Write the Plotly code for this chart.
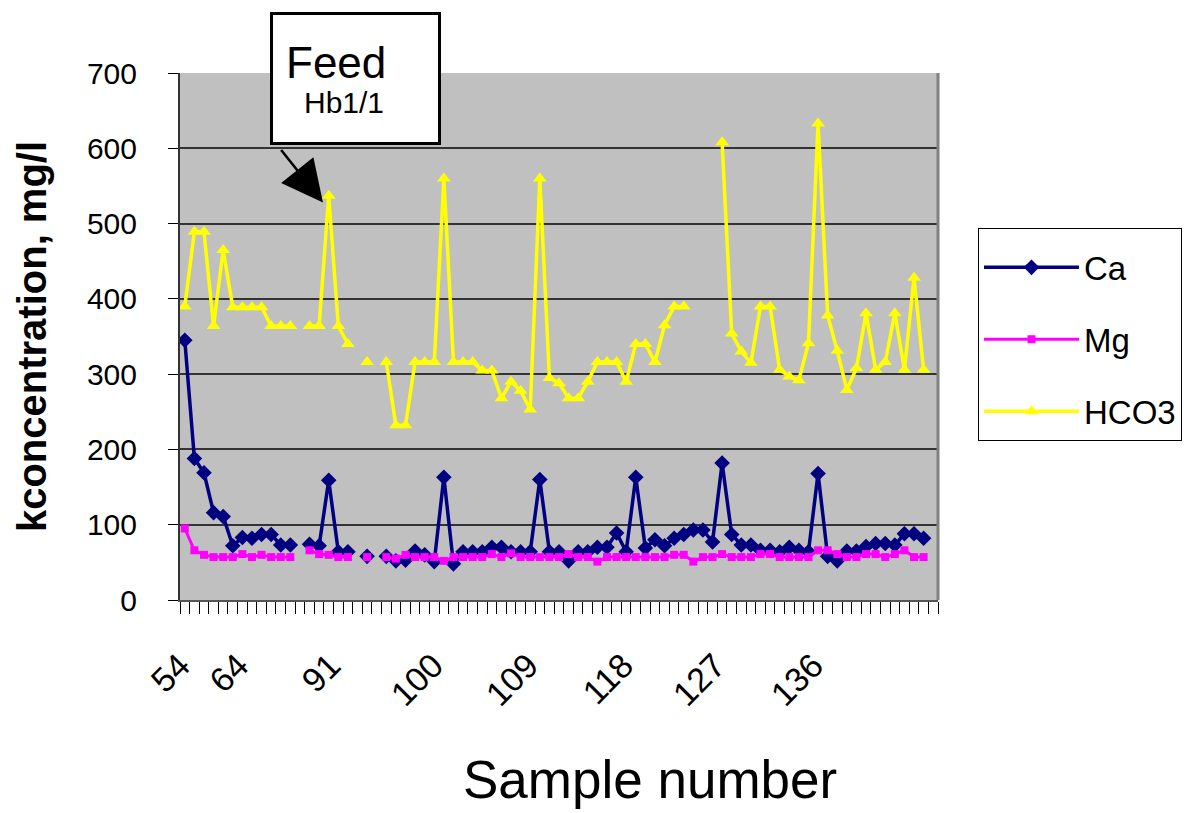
import plotly.graph_objects as go

# ---- data ----
categories = list(range(79))          # category index along the x axis
tick_pos = [-0.5, 5.6, 15.2, 25.9, 35.8, 45.7, 55.3, 65.5]
tick_text = ["54", "64", "91", "100", "109", "118", "127", "136"]

ca = [345, 188, 169, 116, 111, 72, 83, 82, 87, 87, 73, 73, None, 74, 72, 159, 64, 64, None, 58,
      None, 58, 52, 53, 65, 60, 51, 163, 48, 64, 64, 64, 70, 70, 64, 64, 64, 160, 64, 64,
      52, 64, 64, 70, 70, 89, 64, 163, 69, 80, 72, 82, 87, 93, 93, 77, 182, 87, 73, 73,
      66, 66, 64, 70, 66, 64, 168, 58, 52, 65, 65, 71, 75, 75, 73, 88, 88, 82, None]

mg = [95, 66, 60, 57, 57, 57, 61, 57, 60, 57, 57, 57, None, 66, 61, 60, 57, 57, None, 57,
      None, 57, 55, 60, 57, 57, 57, 52, 57, 57, 57, 57, 61, 57, 62, 57, 57, 57, 57, 57,
      61, 57, 57, 51, 57, 57, 57, 57, 57, 57, 57, 60, 60, 51, 57, 57, 61, 57, 57, 57,
      61, 61, 57, 57, 57, 57, 66, 66, 61, 57, 57, 61, 61, 57, 61, 66, 57, 57, None]

hco3 = [390, 489, 489, 364, 465, 389, 389, 389, 389, 364, 364, 364, None, 364, 364, 537, 364, 340, None, 316,
        None, 316, 232, 232, 316, 316, 316, 560, 316, 316, 316, 305, 305, 268, 290, 278, 253, 560, 295, 288,
        268, 268, 290, 316, 316, 316, 290, 340, 340, 316, 365, 390, 390, None, None, None, 608, 354, 330, 315,
        390, 390, 306, 297, 292, 341, 633, 378, 331, 279, 308, 381, 306, 316, 381, 306, 428, 306, None]

FONT = "Liberation Sans, Arial, sans-serif"

fig = go.Figure()
fig.add_trace(go.Scatter(x=categories, y=ca, name="Ca", mode="lines+markers",
                         line=dict(color="#000080", width=3.5),
                         marker=dict(symbol="diamond", size=12, color="#000080"),
                         legendgroup="a", connectgaps=False))
fig.add_trace(go.Scatter(x=categories, y=mg, name="Mg", mode="lines+markers",
                         line=dict(color="#FF00FF", width=3),
                         marker=dict(symbol="square", size=8, color="#FF00FF"),
                         legendgroup="b", connectgaps=False))
fig.add_trace(go.Scatter(x=categories, y=hco3, name="HCO3", mode="lines+markers",
                         line=dict(color="#FFFF00", width=3.5),
                         marker=dict(symbol="triangle-up", size=12, color="#FFFF00"),
                         legendgroup="c", connectgaps=False))

fig.update_layout(
    width=1186, height=813,
    margin=dict(l=180, r=248, t=73, b=213, autoexpand=False),
    paper_bgcolor="white", plot_bgcolor="#C0C0C0",
    font=dict(family=FONT, color="black"),
    showlegend=True,
    legend=dict(x=(978 - 180) / 758, xanchor="left", y=(600 - 228) / 527, yanchor="top",
                bgcolor="white", bordercolor="black", borderwidth=1,
                font=dict(size=33, family=FONT), itemwidth=95,
                entrywidth=175, entrywidthmode="pixels",
                title=dict(text=" ", font=dict(size=8)),
                traceorder="grouped", tracegroupgap=26),
    xaxis=dict(range=[-0.5, 78.5], tickmode="array", tickvals=tick_pos, ticktext=tick_text,
               tickangle=-45, ticks="", showgrid=False, zeroline=False,
               showline=True, linecolor="#555555", linewidth=2,
               tickfont=dict(size=34, family=FONT, color="black"), ticklabelstandoff=30,
               minor=dict(tickmode="array", tickvals=[i - 0.5 for i in range(80)],
                          ticks="outside", ticklen=12, tickcolor="black", tickwidth=1,
                          showgrid=False)),
    yaxis=dict(range=[0, 700], tick0=0, dtick=100, ticks="outside", ticklen=10,
               tickcolor="black", tickwidth=1, showline=True, linecolor="#333333", linewidth=2,
               gridcolor="#333333", gridwidth=1.5, zeroline=False,
               tickfont=dict(size=30, family=FONT, color="black"), ticklabelstandoff=25,
               title=dict(text="<b>kconcentration, mg/l</b>", font=dict(size=40, family=FONT),
                          standoff=28)),
)

# right border of the plot area
fig.add_shape(type="line", xref="paper", yref="paper", x0=1, x1=1, y0=0, y1=1,
              line=dict(color="#808080", width=3))

# x-axis title (placed right of centre as in the reference)
fig.add_annotation(text="Sample number", xref="paper", yref="paper", x=(650 - 180) / 758, y=(600 - 811) / 527,
                   showarrow=False, font=dict(size=53, family=FONT), xanchor="center", yanchor="bottom")

# callout box
fig.add_annotation(text="", xref="paper", yref="paper", x=(355.5 - 180) / 758, y=(600 - 78.5) / 527,
                   width=165, height=127, bgcolor="white", bordercolor="black", borderwidth=3,
                   borderpad=0, showarrow=False, xanchor="center", yanchor="middle")
fig.add_annotation(text="Feed", xref="paper", yref="paper", x=(336 - 180) / 758, y=(600 - 62) / 527,
                   showarrow=False, font=dict(size=44, family=FONT), xanchor="center", yanchor="middle")
fig.add_annotation(text="Hb1/1", xref="paper", yref="paper", x=(344 - 180) / 758, y=(600 - 103) / 527,
                   showarrow=False, font=dict(size=30, family=FONT), xanchor="center", yanchor="middle")
# arrow pointing at the feed sample
fig.add_annotation(text="", x=14.4, y=528, xref="x", yref="y", ax=-43, ay=-54,
                   showarrow=True, arrowhead=2, arrowwidth=2.5, arrowsize=3.3,
                   arrowcolor="black", standoff=0)

fig.write_html("out.html")
